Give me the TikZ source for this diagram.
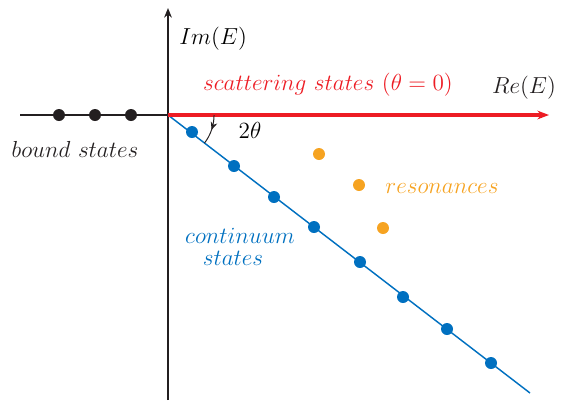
\documentclass[tikz,border=0pt]{standalone}
\usetikzlibrary{arrows.meta,decorations.markings}
\definecolor{cred}{RGB}{237,28,36}
\definecolor{cblue}{RGB}{0,112,192}
\definecolor{corange}{RGB}{246,163,33}
\definecolor{cblack}{RGB}{35,31,32}
\tikzset{
  dotb/.style={circle,fill=cblack,inner sep=0pt,minimum size=6.2pt},
  dotc/.style={circle,fill=cblue,inner sep=0pt,minimum size=6.2pt},
  doto/.style={circle,fill=corange,inner sep=0pt,minimum size=6.2pt},
  lbl/.style={inner sep=0pt,font=\fontsize{12}{14}\selectfont}
}
\begin{document}
\begin{tikzpicture}[x=0.517pt,y=-0.517pt]
\useasboundingbox (0,0) rectangle (561,400);
\coordinate (O) at (168,115);
\coordinate (L) at (20,115);
\coordinate (B) at (168,400);
\coordinate (T) at (168,8);
\coordinate (R) at (549,115);
\coordinate (D) at (530,393);
% axes
\draw[cblack,line width=1pt] (L) -- (O);
\draw[cblack,line width=1pt,-{Stealth[length=5pt,width=4pt]}] (B) -- (T);
\draw[cblue,line width=0.75pt] (O) -- (D);
\draw[cred,line width=1.6pt,-{Stealth[length=6pt,width=4.5pt]}] (O) -- (R);
% angle arc
\draw[cblack,line width=0.5pt,postaction={decorate},
  decoration={markings,mark=at position 0.5 with {\arrow{Stealth[length=4pt,width=3.5pt]}}}]
  ([xshift=23.8pt]O) arc[start angle=0,end angle=-37.5,radius=23.8pt];
% bound states
\node[dotb] (b1) at (59,115) {};
\node[dotb] (b2) at (95,115) {};
\node[dotb] (b3) at (131,115) {};
% continuum
\foreach \i/\x/\y in {1/192/132,2/234/166,3/274/197,4/314/227,5/360/262,6/403/297,7/447/329,8/491/363}
  \node[dotc] (c\i) at (\x,\y) {};
% resonances
\node[doto] (r1) at (319,154) {};
\node[doto] (r2) at (359,185) {};
\node[doto] (r3) at (383,228) {};
% labels
\node[lbl,anchor=west] (im) at (179,39) {$Im(E)$};
\node[lbl,text=cred] (sc) at (328,85) {$scattering\ states\ (\theta=0)$};
\node[lbl,text=cblack] (re) at (524,88) {$Re(E)$};
\node[lbl,text=cblack] (bs) at (75,149) {$bound\ states$};
\node[lbl] (th) at (250,130) {$2\theta$};
\node[lbl,text=corange] (rs) at (442,188) {$resonances$};
\node[lbl,text=cblue] (cs1) at (240,236) {$continuum$};
\node[lbl,text=cblue] (cs2) at (233,258) {$states$};
\end{tikzpicture}
\end{document}
